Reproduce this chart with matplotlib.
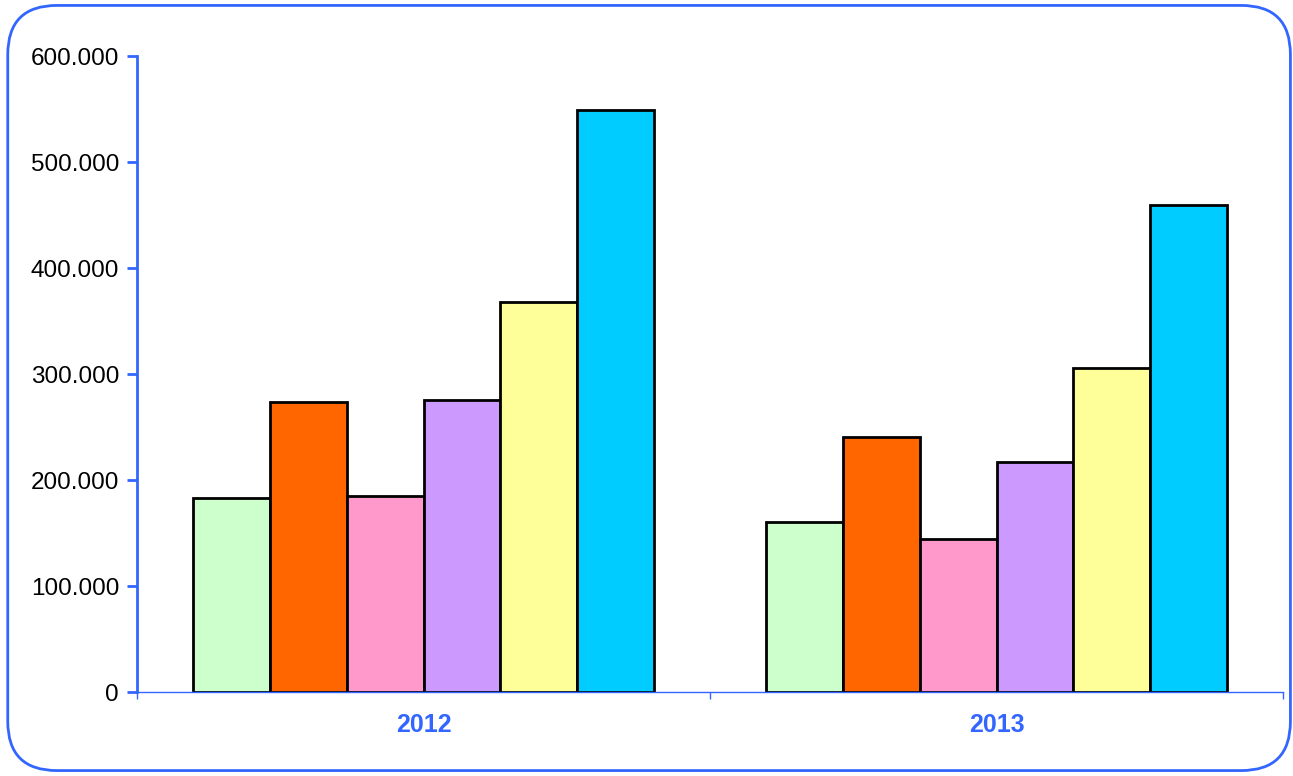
import numpy as np
import matplotlib
matplotlib.use("Agg")
import matplotlib.pyplot as plt
from matplotlib.patches import FancyBboxPatch
from matplotlib.ticker import FuncFormatter

plt.rcParams['font.family'] = ['Liberation Sans', 'DejaVu Sans']

years = ["2012", "2013"]
series_colors = ["#CCFFCC", "#FF6600", "#FF99CC", "#CC99FF", "#FFFF99", "#00CCFF"]
values = [
    [183500, 160500],
    [274000, 240500],
    [185000, 144500],
    [275500, 217000],
    [368000, 305500],
    [549000, 459500],
]

blue = "#3366FF"

fig = plt.figure(figsize=(12.93, 7.76), dpi=100)
ax = fig.add_axes([0.106, 0.1082, 0.8863, 0.8196])

x = np.arange(len(years))
n = len(values)
group_w = 0.803
w = group_w / n
for i, (vals, col) in enumerate(zip(values, series_colors)):
    ax.bar(x - group_w / 2 + w * (i + 0.5), vals, width=w, color=col,
           edgecolor="black", linewidth=2, zorder=3)

ax.set_xlim(-0.5, len(years) - 0.5)
ax.set_ylim(0, 600000)
ax.set_yticks(np.arange(0, 600001, 100000))
ax.yaxis.set_major_formatter(FuncFormatter(
    lambda v, p: "0" if v == 0 else f"{int(v):,}".replace(",", ".")))

ax.set_xticks(x)
ax.set_xticklabels(years, fontsize=18, fontweight="bold", color=blue)
ax.tick_params(axis="x", length=0, pad=15)
ax.set_xticks([-0.5, 0.5, 1.5], minor=True)
ax.tick_params(axis="x", which="minor", length=5, width=1, color=blue, direction="out")
ax.tick_params(axis="y", length=7, width=2, color=blue, labelsize=17.5, pad=6)

for s in ["top", "right"]:
    ax.spines[s].set_visible(False)
ax.spines["left"].set_color(blue)
ax.spines["left"].set_linewidth(2)
ax.spines["bottom"].set_color(blue)
ax.spines["bottom"].set_linewidth(1)
ax.spines["bottom"].set_zorder(4)

frame = FancyBboxPatch((0.006, 0.007), 0.992, 0.986, transform=fig.transFigure,
                       boxstyle="round,pad=0,rounding_size=0.038",
                       facecolor="none", edgecolor=blue, linewidth=2,
                       mutation_aspect=1293 / 776)
fig.patches.append(frame)

fig.savefig("out.png", dpi=100)
